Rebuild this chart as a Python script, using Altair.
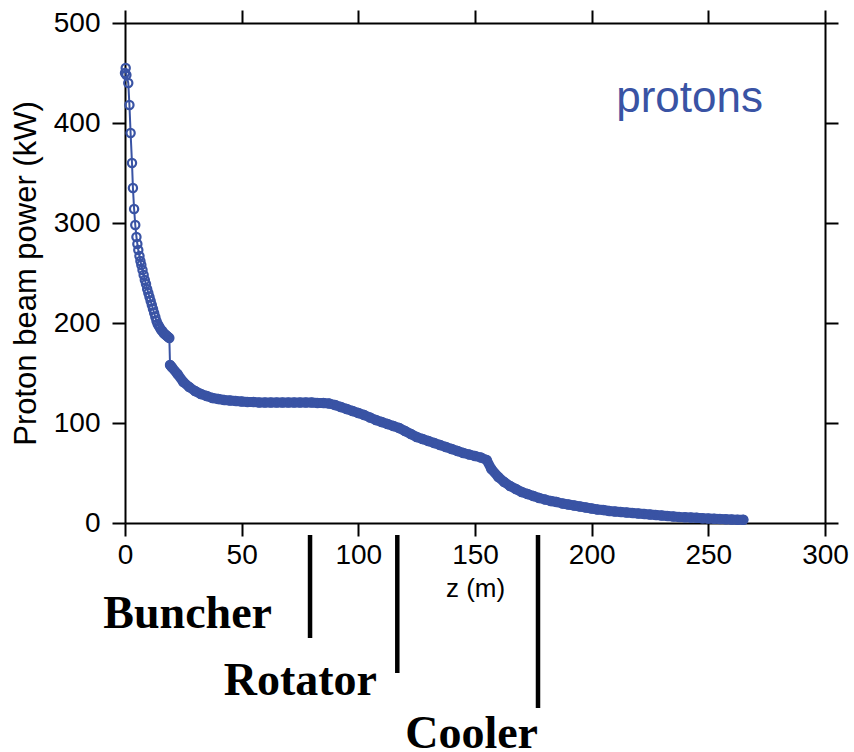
import altair as alt
import pandas as pd

# Proton beam power along the front end, target region (z < 19.3 m)
z_target = [0.0, 0.3, 0.6, 1.4, 1.9, 2.4, 3.0, 3.4, 3.9, 4.4, 4.9, 5.3, 5.7, 6.2,
            6.6, 7.0, 7.5, 8.0, 8.5, 9.0, 9.5, 10.0, 10.5, 11.0, 11.5, 12.0, 12.5,
            13.0, 13.5, 14.0, 14.5, 15.0, 15.5, 16.0, 16.5, 17.0, 17.5, 18.0, 18.5, 19.0]
p_target = [450, 455, 448, 440, 418, 390, 360, 335, 314, 298, 286, 279, 273, 267,
            262, 258, 253, 248, 243, 239, 234, 230, 226, 222, 218, 214, 210,
            206, 202, 199, 197, 195, 193, 192, 190, 189, 188, 187, 186, 185]

# Decay channel, buncher, rotator and cooler (z >= 19.3 m)
z_channel = [19.3, 20.0, 22.5, 25.0, 27.5, 30.0, 32.5, 35.0, 37.5, 40.0, 42.5, 45.0,
             47.5, 50.0, 52.5, 55.0, 57.5, 60.0, 62.5, 65.0, 67.5, 70.0, 72.5, 75.0,
             77.5, 80.0, 82.5, 85.0, 87.5, 90.0, 92.5, 95.0, 97.5, 100.0, 102.5, 105.0,
             107.5, 110.0, 112.5, 115.0, 117.5, 120.0, 122.5, 125.0, 127.5, 130.0,
             132.5, 135.0, 137.5, 140.0, 142.5, 145.0, 147.5, 150.0, 152.5, 155.0,
             157.0, 160.0, 162.5, 165.0, 167.5, 170.0, 172.5, 175.0, 177.5, 180.0,
             182.5, 185.0, 187.5, 190.0, 192.5, 195.0, 197.5, 200.0, 202.5, 205.0,
             207.5, 210.0, 212.5, 215.0, 217.5, 220.0, 222.5, 225.0, 227.5, 230.0,
             232.5, 235.0, 237.5, 240.0, 242.5, 245.0, 247.5, 250.0, 252.5, 255.0,
             257.5, 260.0, 262.5, 265.0]
p_channel = [158, 156, 149, 141, 136, 132, 129, 127, 125, 124, 123, 122.5,
             122, 121.5, 121, 121, 120.5, 120.5, 120.5, 120.5, 120.5, 120.5, 120.5, 120.5,
             120.5, 120.5, 120, 120, 119.5, 118, 116, 114, 112, 110, 108, 105.5,
             103, 101, 99, 97, 95, 92, 89, 86, 84, 82,
             80, 78, 76, 74, 72, 70, 68.5, 67, 65.5, 63,
             54, 46, 41, 37, 34, 31, 29, 27, 25, 23.5,
             22, 21, 19.5, 18.5, 17.5, 16.5, 15.5, 14.5, 13.5, 13,
             12, 11.5, 11, 10.5, 10, 9.5, 9, 8.5, 8, 7.5,
             7, 6.5, 6, 5.8, 5.5, 5.2, 4.8, 4.5, 4.2, 4,
             3.7, 3.5, 3.3, 3.2]

# Section boundaries of the front end
stage_names = ["Buncher", "Rotator", "Cooler"]
stage_z = [79.3, 116.7, 177.0]

X_TICKS = [0, 50, 100, 150, 200, 250, 300]
Y_TICKS = [0, 100, 200, 300, 400, 500]

BLUE = "#3953a4"
SANS = "Liberation Sans"
SERIF = "Liberation Serif"

target = pd.DataFrame({"z": z_target, "power": p_target})
channel = pd.DataFrame({"z": z_channel, "power": p_channel})
beam = pd.concat([target, channel], ignore_index=True)

# marker depth below the axis and label placement (in axis units)
stages = pd.DataFrame({
    "stage": stage_names,
    "z": stage_z,
    "top": [-12, -12, -12],
    "bottom": [-115, -150, -185],
    "label_z": [63, 108, 177],
    "label_y": [-105, -172, -225],
})

x_scale = alt.Scale(domain=[0, 300], nice=False)
y_scale = alt.Scale(domain=[0, 500], nice=False)

x_axis = alt.Axis(values=X_TICKS, title="z (m)", titleFontSize=26,
                  titleFontWeight="normal", titlePadding=6, labelPadding=5,
                  labelFlush=False)
y_axis = alt.Axis(values=Y_TICKS, title="Proton beam power (kW)", titleFontSize=31,
                  titleFontWeight="normal", titlePadding=11, labelPadding=12,
                  labelFlush=False)

X = alt.X("z:Q", scale=x_scale, axis=x_axis)
Y = alt.Y("power:Q", scale=y_scale, axis=y_axis)

line = alt.Chart(beam).mark_line(color=BLUE, strokeWidth=2, clip=False).encode(x=X, y=Y)

# densely sampled channel points merge into a solid band
band = alt.Chart(channel).mark_line(
    color=BLUE, strokeWidth=10, strokeCap="round", strokeJoin="round"
).encode(x=X, y=Y)

points = alt.Chart(beam).mark_point(
    shape="circle", filled=False, color=BLUE, size=68, strokeWidth=2.2, opacity=1
).encode(x=X, y=Y)

label = alt.Chart(pd.DataFrame({"z": [210.5], "power": [411], "text": ["protons"]})).mark_text(
    align="left", baseline="alphabetic", font=SANS, fontSize=44, color=BLUE
).encode(x=X, y=Y, text="text:N")

stage_rules = alt.Chart(stages).mark_rule(color="black", strokeWidth=4.5, clip=False).encode(
    x=X,
    y=alt.Y("top:Q", scale=y_scale, axis=y_axis),
    y2="bottom:Q",
)

stage_text = alt.Chart(stages).mark_text(
    align="right", baseline="alphabetic", font=SERIF, fontSize=46,
    fontWeight="bold", color="black", clip=False
).encode(
    x=alt.X("label_z:Q", scale=x_scale, axis=x_axis),
    y=alt.Y("label_y:Q", scale=y_scale, axis=y_axis),
    text="stage:N",
)

main = alt.layer(line, band, points, label, stage_rules, stage_text)

# mirrored ticks on the top and right edges of the frame
frame = alt.Chart(beam).mark_point(opacity=0).encode(
    x=alt.X("z:Q", scale=x_scale,
            axis=alt.Axis(orient="top", values=X_TICKS, labels=False, title=None)),
    y=alt.Y("power:Q", scale=y_scale,
            axis=alt.Axis(orient="right", values=Y_TICKS, labels=False, title=None)),
)

chart = (
    alt.layer(main, frame)
    .resolve_axis(x="independent", y="independent")
    .properties(
        width=700,
        height=500,
        autosize=alt.AutoSizeParams(type="none"),
        padding={"left": 125, "top": 23, "right": 29, "bottom": 229},
        background="white",
    )
    .configure_view(stroke=None)
    .configure_axis(
        domainColor="black", domainWidth=2, tickColor="black", tickWidth=2,
        tickSize=13, grid=False, labelFont=SANS, labelFontSize=28,
        labelColor="black", titleFont=SANS, titleColor="black",
    )
)

chart.save("out.html", embed_options={"renderer": "svg", "actions": False})
